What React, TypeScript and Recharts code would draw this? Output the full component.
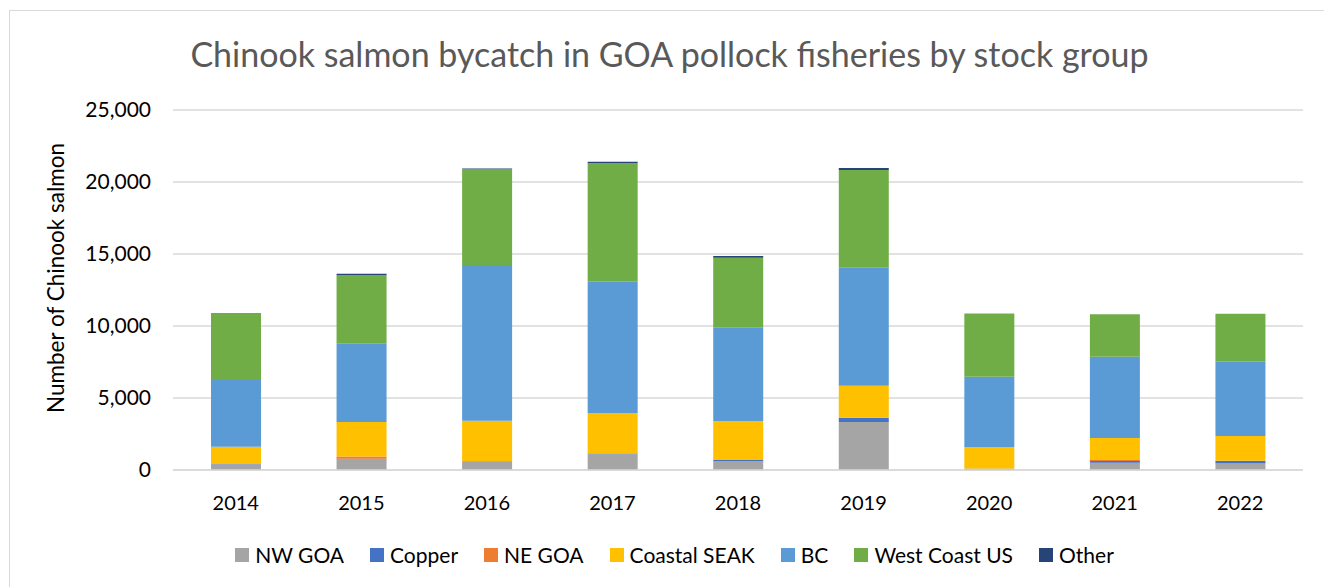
import React from "react";
import { BarChart, Bar, XAxis, YAxis, CartesianGrid, Legend, Label } from "recharts";

const years = ["2014", "2015", "2016", "2017", "2018", "2019", "2020", "2021", "2022"];
const nwGoa = [400, 740, 580, 1090, 625, 3330, 100, 510, 460];
const copper = [20, 40, 30, 60, 65, 300, 0, 115, 190];
const neGoa = [0, 150, 0, 0, 0, 0, 0, 65, 0];
const coastalSeak = [1200, 2400, 2810, 2810, 2710, 2220, 1500, 1530, 1710];
const bc = [4630, 5470, 10820, 9120, 6480, 8200, 4880, 5650, 5190];
const westCoastUs = [4630, 4730, 6660, 8220, 4860, 6780, 4380, 2940, 3300];
const other = [20, 100, 30, 110, 120, 140, 0, 0, 0];
const yTicks = [0, 5000, 10000, 15000, 20000, 25000];

const series = [
  { key: "nwGoa", name: "NW GOA", color: "#a5a5a5", values: nwGoa },
  { key: "copper", name: "Copper", color: "#4472c4", values: copper },
  { key: "neGoa", name: "NE GOA", color: "#ed7d31", values: neGoa },
  { key: "coastalSeak", name: "Coastal SEAK", color: "#ffc000", values: coastalSeak },
  { key: "bc", name: "BC", color: "#5b9bd5", values: bc },
  { key: "westCoastUs", name: "West Coast US", color: "#70ad47", values: westCoastUs },
  { key: "other", name: "Other", color: "#264478", values: other },
];

const data = years.map((y, i) => {
  const row: Record<string, any> = { year: y };
  series.forEach((s) => (row[s.key] = s.values[i]));
  return row;
});

const FONT = "Lato, 'Liberation Sans', sans-serif";

const LegendContent = () => (
  <div
    style={{
      display: "flex",
      justifyContent: "center",
      fontFamily: FONT,
      fontSize: 21,
      color: "#000",
      lineHeight: "26px",
      paddingLeft: 36,
    }}
  >
    {series.map((s, i) => (
      <div
        key={s.key}
        style={{ display: "flex", alignItems: "center", marginRight: i === series.length - 1 ? 0 : 26 }}
      >
        <span style={{ display: "inline-block", width: 14, height: 14, background: s.color, marginRight: 6 }} />
        <span>{s.name}</span>
      </div>
    ))}
  </div>
);

export default function App() {
  return (
    <div
      style={{
        position: "relative",
        marginLeft: 1,
        marginTop: 2,
        width: 1319,
        height: 590,
        border: "1px solid #d9d9d9",
        background: "#fff",
      }}
    >
      <div
        style={{
          position: "absolute",
          top: 22,
          left: 0,
          width: "100%",
          textAlign: "center",
          fontFamily: FONT,
          fontSize: 34,
          color: "#595959",
        }}
      >
        Chinook salmon bycatch in GOA pollock fisheries by stock group
      </div>
      <BarChart
        width={1319}
        height={590}
        data={data}
        margin={{ top: 99, right: 26, bottom: 65, left: 0 }}
        barCategoryGap="30%"
      >
        <CartesianGrid vertical={false} stroke="#d9d9d9" strokeWidth={1.5} />
        <XAxis
          dataKey="year"
          axisLine={{ stroke: "#d9d9d9", strokeWidth: 1.5 }}
          tickLine={false}
          tick={{ fontFamily: FONT, fontSize: 20, fill: "#000" }}
          tickMargin={20}
          height={40}
        />
        <YAxis
          width={163}
          domain={[0, 25000]}
          ticks={yTicks}
          axisLine={false}
          tickLine={false}
          tickSize={0}
          tickMargin={22}
          tickFormatter={(v: number) => v.toLocaleString("en-US")}
          tick={{ fontFamily: FONT, fontSize: 21, fill: "#000" }}
        >
          <Label
            value="Number of Chinook salmon"
            angle={-90}
            position="insideLeft"
            offset={46}
            dy={-12}
            style={{ fontFamily: FONT, fontSize: 22.5, fill: "#000", textAnchor: "middle" }}
          />
        </YAxis>
        <Legend verticalAlign="bottom" content={<LegendContent />} wrapperStyle={{ top: 531, bottom: "auto" }} />
        {series.map((s) => (
          <Bar
            key={s.key}
            dataKey={s.key}
            name={s.name}
            stackId="a"
            fill={s.color}
            barSize={50}
            isAnimationActive={false}
          />
        ))}
      </BarChart>
    </div>
  );
}
